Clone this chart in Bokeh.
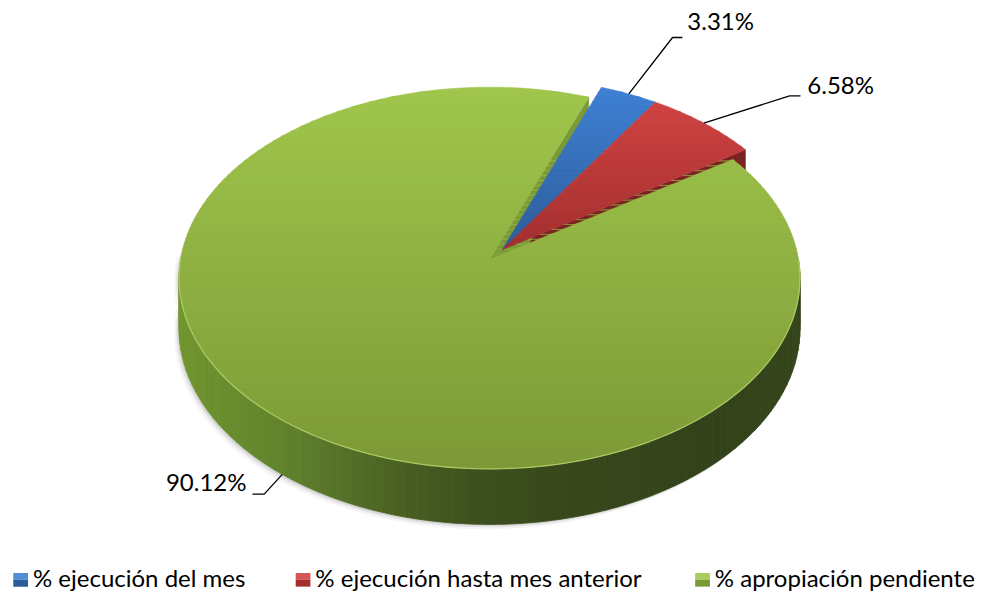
import numpy as np
from bokeh.plotting import figure
from bokeh.models import Range1d
from bokeh.core.properties import value
from bokeh.embed import file_html
from bokeh.resources import INLINE

# ---------------- data ----------------
categories = ["% ejecución del mes", "% ejecución hasta mes anterior", "% apropiación pendiente"]
values = [3.31, 6.58, 90.12]
exploded = [True, True, False]
labels = [f"{v:.2f}%" for v in values]

# ---------------- style ----------------
top_light = ["#3f81d4", "#d04343", "#a0c64c"]
top_dark = ["#2e5c9a", "#a32f2f", "#7c9937"]
face_col = ["#2a5288", "#7b2222", "#7b9a37"]
wall_stops = [
    [(-1.0, "#2f5f9f"), (1.0, "#1a3457")],
    [(-1.0, "#a33131"), (1.0, "#5a1a1a")],
    [(-1.0, "#72962f"), (-0.63, "#62842c"), (-0.44, "#55722a"), (-0.25, "#485f22"),
     (-0.05, "#3e501e"), (0.2, "#38481b"), (0.65, "#33421a"), (1.0, "#35451b")],
]

CX, CY, A, B, K, D = 497.0, 266.0, 314.0, 194.2, 0.097, 51.5
EXPL = 0.066
START = 69.5
FONT = "Lato"


def hex2rgb(h):
    h = h.lstrip("#")
    return np.array([int(h[i:i + 2], 16) for i in (0, 2, 4)], dtype=float)


def lerp(c1, c2, f):
    f = min(max(f, 0.0), 1.0)
    c = hex2rgb(c1) * (1 - f) + hex2rgb(c2) * f
    return "#%02x%02x%02x" % tuple(int(round(v)) for v in c)


def stop_color(stops, u):
    for (u0, c0), (u1, c1) in zip(stops[:-1], stops[1:]):
        if u <= u1:
            return lerp(c0, c1, (u - u0) / (u1 - u0))
    return stops[-1][1]


def proj(t, off, bottom=False):
    tr = np.radians(t)
    w = 1 + K * np.sin(tr)
    x = CX + A * np.cos(tr) / w + off[0]
    y = CY - B * np.sin(tr) / w + off[1] + (D / w if bottom else 0.0)
    return x, y


def clip(poly, yv, keep_below):
    out = []
    n = len(poly)
    for i in range(n):
        p_, q = poly[i], poly[(i + 1) % n]
        pin = (p_[1] >= yv) if keep_below else (p_[1] <= yv)
        qin = (q[1] >= yv) if keep_below else (q[1] <= yv)
        if pin:
            out.append(p_)
        if pin != qin:
            t = (yv - p_[1]) / (q[1] - p_[1])
            out.append((p_[0] + t * (q[0] - p_[0]), yv))
    return out


# angles
total = sum(values)
starts, ends = [], []
a = START
for v in values:
    starts.append(a)
    a -= 360.0 * v / total
    ends.append(a)

ex_idx = [i for i, e in enumerate(exploded) if e]
if ex_idx:
    mid = (starts[ex_idx[0]] + ends[ex_idx[-1]]) / 2.0
    exoff = (EXPL * A * np.cos(np.radians(mid)), -EXPL * B * np.sin(np.radians(mid)))
else:
    exoff = (0.0, 0.0)
offs = [exoff if e else (0.0, 0.0) for e in exploded]

p = figure(width=982, height=591, x_range=Range1d(0, 998), y_range=Range1d(607, 0),
           output_backend="svg", toolbar_location=None, min_border=0, title=None)
p.axis.visible = False
p.grid.visible = False
p.outline_line_color = None
p.background_fill_color = "white"
p.border_fill_color = "white"


def wall_segments(i):
    s, e = starts[i], ends[i]
    segs = []
    for k in (-2, -1, 0, 1):
        lo, hi = max(e, -180 + 360 * k), min(s, 360 * k)
        if lo < hi:
            segs.append((lo, hi))
    return segs


# shadow
for i in range(len(values)):
    for lo, hi in wall_segments(i):
        ts = np.linspace(lo - 3, hi, 80)
        for (ox, oy, al) in ((-5, 5, 0.08), (-3, 3, 0.14), (-1.5, 1.5, 0.18)):
            xs_t, ys_t = proj(ts, (offs[i][0] + ox, offs[i][1] + oy))
            xs_b, ys_b = proj(ts[::-1], (offs[i][0] + ox, offs[i][1] + oy), bottom=True)
            p.patch(list(xs_t) + list(xs_b), list(ys_t) + list(ys_b),
                    fill_color="#808080", fill_alpha=al, line_alpha=0)

# walls
wx, wy, wc = [], [], []
for i in range(len(values)):
    for lo, hi in wall_segments(i):
        n = max(int((hi - lo) / 2.0), 1)
        edges = np.linspace(lo, hi, n + 1)
        for j in range(n):
            ts = np.linspace(edges[j], edges[j + 1], 4)
            xs_t, ys_t = proj(ts, offs[i])
            xs_b, ys_b = proj(ts[::-1], offs[i], bottom=True)
            tm = (edges[j] + edges[j + 1]) / 2.0
            wx.append(list(xs_t) + list(xs_b))
            wy.append(list(ys_t) + list(ys_b))
            wc.append(stop_color(wall_stops[i], np.cos(np.radians(tm))))
p.patches(wx, wy, fill_color=wc, line_color=wc, line_width=0.8)

# radial faces
n_sl = len(values)
for i in range(n_sl):
    prev_i = (i - 1) % n_sl
    next_i = (i + 1) % n_sl
    for ang, visible, neigh in ((starts[i], np.cos(np.radians(starts[i])) < 0, prev_i),
                                (ends[i], np.cos(np.radians(ends[i])) > 0, next_i)):
        if not visible or offs[neigh] == offs[i]:
            continue
        ox, oy = offs[i]
        rx, ry = proj(ang, offs[i])
        bx, by = proj(ang, offs[i], bottom=True)
        p.patch([CX + ox, rx, bx, CX + ox], [CY + oy, ry, by, CY + oy + D],
                fill_color=face_col[i], line_color=face_col[i], line_width=0.5)

# tops (non-exploded first)
order = [i for i in range(n_sl) if not exploded[i]] + [i for i in range(n_sl) if exploded[i]]
for i in order:
    ts = np.linspace(starts[i], ends[i], max(int(abs(starts[i] - ends[i])), 4))
    xs, ys = proj(ts, offs[i])
    poly = [(CX + offs[i][0], CY + offs[i][1])] + list(zip(xs, ys))
    ymin = min(pt[1] for pt in poly)
    ymax = max(pt[1] for pt in poly)
    nb = max(int((ymax - ymin) / 5), 2)
    bands = np.linspace(ymin, ymax, nb + 1)
    bx_, by_, bc_ = [], [], []
    for j in range(nb):
        y0, y1 = bands[j], bands[j + 1]
        q = clip(poly, y0 - 0.4, True)
        q = clip(q, y1 + 0.4, False) if q else q
        if len(q) < 3:
            continue
        c = lerp(top_light[i], top_dark[i], ((y0 + y1) / 2 - ymin) / (ymax - ymin))
        bx_.append([pt[0] for pt in q])
        by_.append([pt[1] for pt in q])
        bc_.append(c)
    p.patches(bx_, by_, fill_color=bc_, line_color=bc_, line_width=0.5)

# rim highlight on front edge
for i in range(n_sl):
    for lo, hi in wall_segments(i):
        ts = np.linspace(lo, hi, 120)
        xs, ys = proj(ts, offs[i])
        p.line(xs, ys, line_color=lerp(top_light[i], "#ffffff", 0.15), line_width=1.3, line_alpha=0.9)

# leader lines and labels
elbows = [(683, 38), (802, 98), (268, 507)]
ends_l = [(693, 38), (813, 98), (256, 507)]
text_pos = [(698, 21, "left"), (820, 86, "left"), (250, 494, "right")]
for i in range(n_sl):
    mid = (starts[i] + ends[i]) / 2.0
    bottom = np.sin(np.radians(mid)) < 0
    sx, sy = proj(mid, offs[i], bottom=bottom)
    p.line([sx, elbows[i][0], ends_l[i][0]], [sy, elbows[i][1], ends_l[i][1]],
           line_color="black", line_width=1.3)
    p.text(x=[text_pos[i][0]], y=[text_pos[i][1]], text=[labels[i]],
           text_font=value(FONT), text_font_size="24px", text_align=text_pos[i][2],
           text_baseline="middle", text_color="black")

# legend
leg_sq_x = [13, 300, 706]
leg_tx_x = [33, 320, 726]
for i in range(n_sl):
    x0 = leg_sq_x[i]
    p.quad(left=[x0], right=[x0 + 15], top=[588], bottom=[595],
           fill_color=lerp(top_light[i], "#ffffff", 0.1), line_alpha=0)
    p.quad(left=[x0], right=[x0 + 15], top=[595], bottom=[602],
           fill_color=top_dark[i], line_alpha=0)
    p.text(x=[leg_tx_x[i]], y=[593], text=[categories[i]], text_font=value(FONT),
           text_font_size="24px", text_align="left", text_baseline="middle",
           text_color="black")

open("out.html", "w").write(file_html(p, INLINE))
